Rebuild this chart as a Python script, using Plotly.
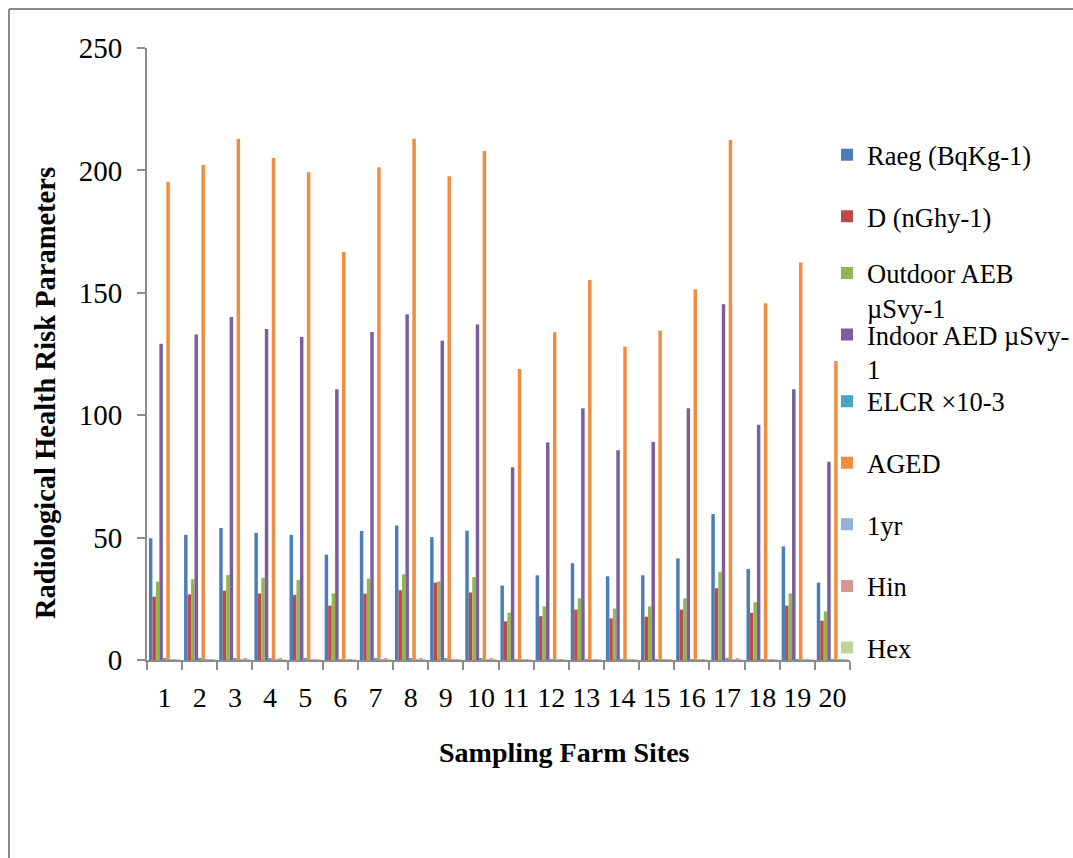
import plotly.graph_objects as go

sites = [str(i) for i in range(1, 21)]

raeg = [49.7, 51.1, 53.9, 51.9, 51.1, 43.0, 52.7, 54.9, 50.2, 52.8,
        30.4, 34.6, 39.5, 34.2, 34.6, 41.5, 59.6, 37.2, 46.4, 31.6]
dose = [25.9, 26.8, 28.3, 27.2, 26.6, 22.2, 27.1, 28.5, 31.6, 27.6,
        15.8, 17.9, 20.6, 17.0, 17.7, 20.6, 29.3, 19.3, 22.2, 16.1]
outdoor = [32.0, 33.0, 34.7, 33.6, 32.7, 27.2, 33.2, 35.0, 32.1, 33.9,
           19.3, 21.9, 25.2, 21.0, 21.9, 25.2, 35.9, 23.6, 27.2, 19.9]
indoor = [129.2, 133.0, 140.1, 135.2, 131.9, 110.6, 134.0, 141.2, 130.4, 137.1,
          78.7, 88.9, 102.8, 85.7, 89.1, 102.8, 145.3, 96.1, 110.6, 81.0]
elcr = [0.45, 0.47, 0.49, 0.47, 0.46, 0.39, 0.47, 0.50, 0.46, 0.48,
        0.28, 0.31, 0.36, 0.30, 0.31, 0.36, 0.51, 0.34, 0.39, 0.28]
aged = [195.4, 202.2, 212.8, 205.1, 199.2, 166.7, 201.3, 212.9, 197.6, 207.9,
        118.9, 133.9, 155.2, 128.1, 134.5, 151.4, 212.4, 145.7, 162.4, 122.1]
one_yr = [0.13, 0.13, 0.14, 0.14, 0.13, 0.11, 0.13, 0.14, 0.13, 0.14,
          0.08, 0.09, 0.10, 0.09, 0.09, 0.10, 0.15, 0.10, 0.11, 0.08]
hin = [0.40, 0.41, 0.43, 0.42, 0.41, 0.35, 0.42, 0.44, 0.41, 0.43,
       0.25, 0.28, 0.32, 0.27, 0.28, 0.32, 0.46, 0.30, 0.35, 0.25]
hex_ = [0.13, 0.14, 0.15, 0.14, 0.14, 0.12, 0.14, 0.15, 0.14, 0.14,
        0.08, 0.09, 0.11, 0.09, 0.09, 0.11, 0.16, 0.10, 0.13, 0.09]

series_names = ["Raeg (BqKg-1)", "D (nGhy-1)", "Outdoor AEB<br>µSvy-1",
                "Indoor AED µSvy-<br>1", "ELCR ×10-3", "AGED", "1yr", "Hin", "Hex"]
series_values = [raeg, dose, outdoor, indoor, elcr, aged, one_yr, hin, hex_]
series_colors = ["#4A7DBA", "#BC4A47", "#93B552", "#7A5E9E", "#46A5BF",
                 "#EE8D40", "#95B1D6", "#D79593", "#C1D59A"]

x_title = "Sampling Farm Sites"
y_title = "Radiological Health Risk Parameters"

# plot geometry (pixels)
W, H = 1073, 858
L, R, T, B = 147, 850, 48, 660
pw, ph = R - L, B - T

def px_x(x):
    return (x - L) / pw

def px_y(y):
    return (B - y) / ph

FONT = "Liberation Serif"

fig = go.Figure()
legend_keys = ["legend"] + [f"legend{i}" for i in range(2, 10)]
for i, (name, vals, col) in enumerate(zip(series_names, series_values, series_colors)):
    fig.add_trace(go.Bar(
        x=sites, y=vals, name=name, marker=dict(color=col, line=dict(width=0)),
        legend=legend_keys[i],
    ))

layout_legends = {}
for i, (key, name) in enumerate(zip(legend_keys, series_names)):
    cy = 157 + i * 61.6
    if "<br>" in name:
        cy -= 5  # keep the wrapped second line clear of the next entry
    layout_legends[key] = dict(
        x=px_x(827), xanchor="left", y=px_y(cy - 26), yanchor="top",
        valign="top", bgcolor="rgba(0,0,0,0)", borderwidth=0,
        font=dict(family=FONT, size=26.5, color="#000000"),
    )

axis_col = "#8C8C8C"
fig.update_layout(
    width=W, height=H,
    margin=dict(l=L, r=W - R, t=T, b=H - B, autoexpand=False),
    paper_bgcolor="white", plot_bgcolor="white",
    barmode="group", bargap=0.11, bargroupgap=0,
    showlegend=True,
    font=dict(family=FONT, size=28, color="#000000"),
    xaxis=dict(
        type="category", showgrid=False, showline=True, linecolor=axis_col, linewidth=2,
        ticks="outside", tickson="boundaries", ticklen=8, tickcolor=axis_col, tickwidth=2,
        tickfont=dict(family=FONT, size=28, color="#000000"), tickangle=0,
        ticklabelstandoff=11,
        range=[-0.5, 19.5],
    ),
    yaxis=dict(
        range=[0, 250], tickvals=[0, 50, 100, 150, 200, 250], showgrid=False,
        showline=True, linecolor=axis_col, linewidth=2,
        ticks="outside", ticklen=8, tickcolor=axis_col, tickwidth=2,
        tickfont=dict(family=FONT, size=29, color="#000000"),
        ticklabelstandoff=9,
        zeroline=False,
    ),
    **layout_legends,
)

fig.add_annotation(text=f"<b>{x_title}</b>", xref="paper", yref="paper",
                   x=px_x(564), y=px_y(752), xanchor="center", yanchor="middle",
                   showarrow=False, font=dict(family=FONT, size=28, color="#000000"))
fig.add_annotation(text=f"<b>{y_title}</b>", xref="paper", yref="paper",
                   x=px_x(45), y=px_y(393), xanchor="center", yanchor="middle",
                   textangle=-90, showarrow=False,
                   font=dict(family=FONT, size=28.5, color="#000000"))

# outer chart-area border (partially outside the page, as in the reference)
fig.add_shape(type="line", xref="paper", yref="paper",
              x0=px_x(9), y0=px_y(9), x1=px_x(1080), y1=px_y(9),
              line=dict(color="#8A8A8A", width=2))
fig.add_shape(type="line", xref="paper", yref="paper",
              x0=px_x(9), y0=px_y(9), x1=px_x(9), y1=px_y(870),
              line=dict(color="#8A8A8A", width=2))

fig.write_html("out.html")
